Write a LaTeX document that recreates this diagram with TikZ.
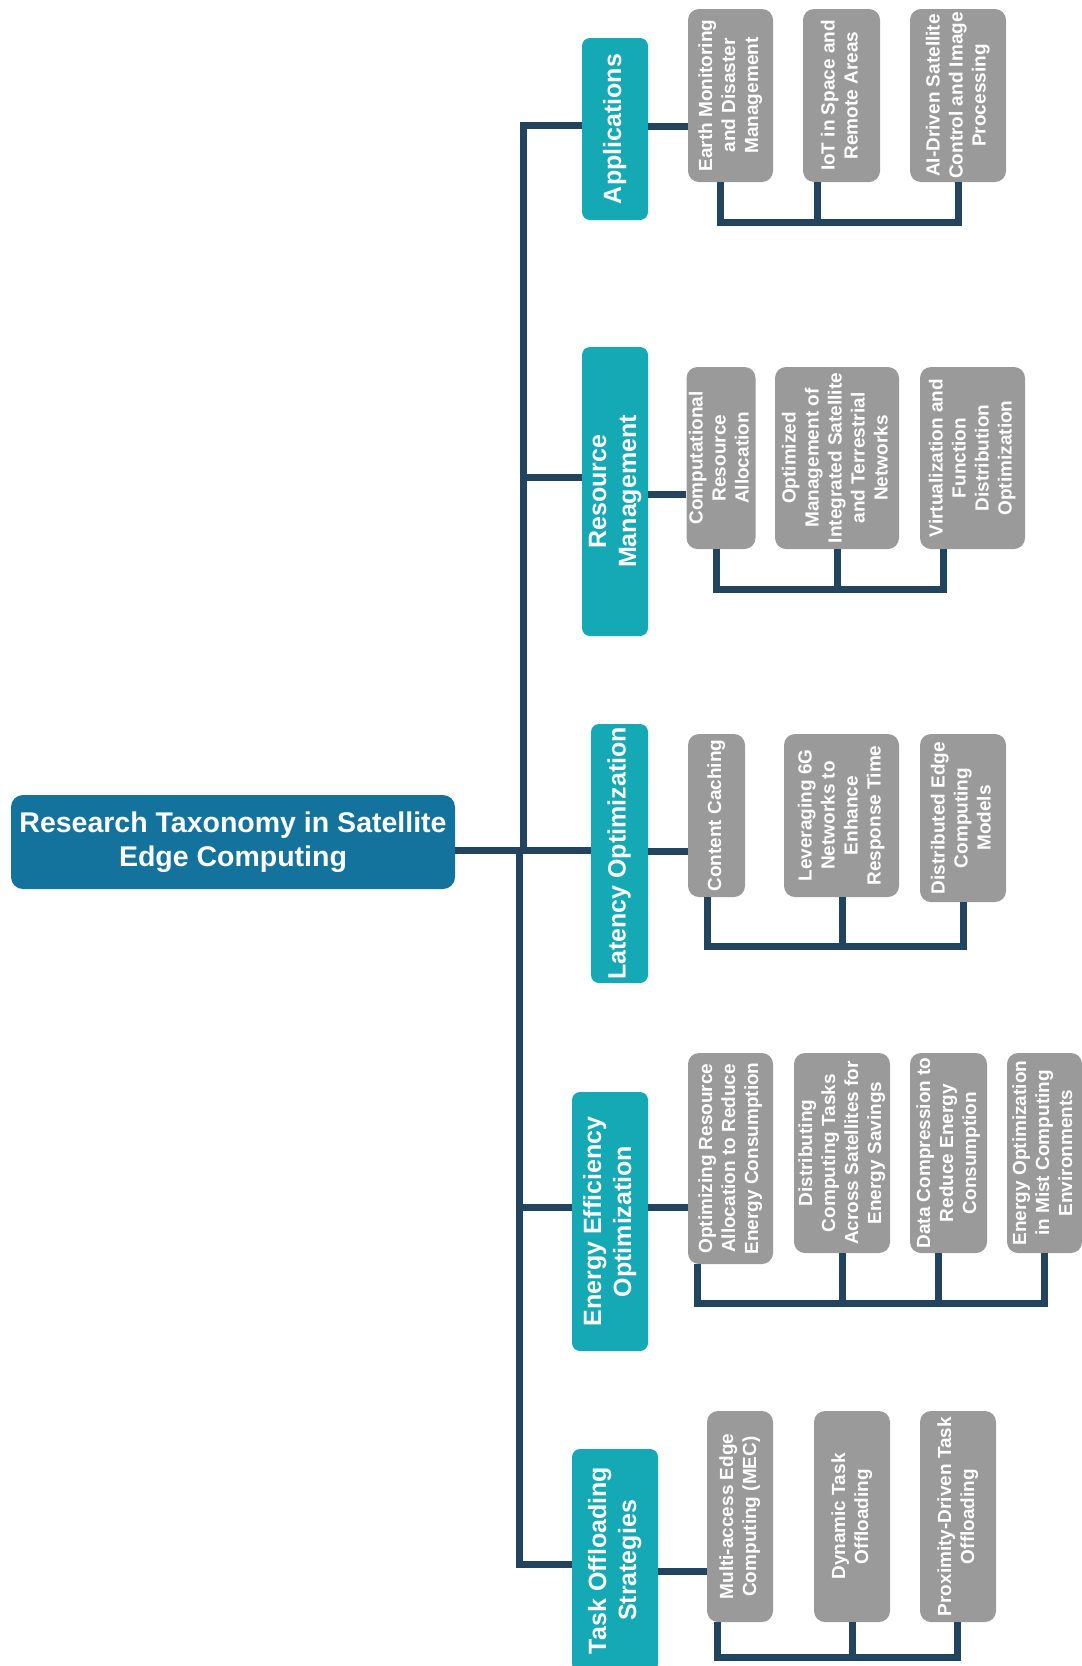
\documentclass[tikz,border=0pt]{standalone}
\usepackage{fontspec}
\setmainfont{Liberation Sans}
\usepackage{graphicx}

\definecolor{rootblue}{RGB}{19,115,156}
\definecolor{catteal}{RGB}{21,168,181}
\definecolor{leafgray}{RGB}{154,154,154}
\definecolor{linknavy}{RGB}{35,68,94}

% text set bottom-to-top, lines centred
\newcommand\vtext[1]{\rotatebox{90}{\begin{tabular}{@{}c@{}}#1\end{tabular}}}

\begin{document}
\begin{tikzpicture}[x=1pt,y=-1pt,
  rootbox/.style={fill=rootblue, text=white, rounded corners=12pt, inner sep=0pt,
    align=center, font=\fontsize{28.5}{34}\selectfont\bfseries},
  catbox/.style={fill=catteal, text=white, rounded corners=8pt, inner sep=0pt,
    font=\fontsize{25}{30}\selectfont\bfseries},
  leafbox/.style={fill=leafgray, text=white, rounded corners=11pt, inner sep=0pt,
    font=\fontsize{19}{23}\selectfont\bfseries},
  link/.style={draw=linknavy, line width=7pt, line join=miter},
]
\useasboundingbox (0,0) rectangle (1082,1666);

% ---------- root ----------
\node[rootbox, minimum width=444pt, minimum height=94pt] (root) at (233,842)
  {Research Taxonomy in Satellite\\Edge Computing};

% ---------- categories ----------
\node[catbox, minimum width=66pt, minimum height=182pt] (app) at (615,129) {\vtext{Applications}};
\node[catbox, minimum width=66pt, minimum height=289pt] (res) at (615,491.5) {\vtext{Resource\\Management}};
\node[catbox, minimum width=57pt, minimum height=259pt] (lat) at (619.5,853.5) {\vtext{Latency Optimization}};
\node[catbox, minimum width=76pt, minimum height=259pt] (ene) at (610,1221.5) {\vtext{Energy Efficiency\\Optimization}};
\node[catbox, minimum width=86pt, minimum height=223pt] (task) at (615,1560.5) {\vtext{Task Offloading\\Strategies}};

% ---------- leaves: applications ----------
\node[leafbox, minimum width=85pt, minimum height=173pt] (a1) at (730.5,95.5) {\vtext{Earth Monitoring\\and Disaster\\Management}};
\node[leafbox, minimum width=77pt, minimum height=173pt] (a2) at (841.5,95.5) {\vtext{IoT in Space and\\Remote Areas}};
\node[leafbox, minimum width=96pt, minimum height=173pt] (a3) at (958,95.5) {\vtext{AI-Driven Satellite\\Control and Image\\Processing}};

% ---------- leaves: resource management ----------
\node[leafbox, minimum width=66pt, minimum height=182pt] (r1) at (721,458) {\vtext{Computational\\Resource\\Allocation}};
\node[leafbox, minimum width=124pt, minimum height=182pt] (r2) at (837,458) {\vtext{Optimized\\Management of\\Integrated Satellite\\and Terrestrial\\Networks}};
\node[leafbox, minimum width=105pt, minimum height=182pt] (r3) at (972.5,458) {\vtext{Virtualization and\\Function\\Distribution\\Optimization}};

% ---------- leaves: latency ----------
\node[leafbox, minimum width=57pt, minimum height=163pt] (l1) at (716.5,815.5) {\vtext{Content Caching}};
\node[leafbox, minimum width=115pt, minimum height=163pt] (l2) at (841.5,815.5) {\vtext{Leveraging 6G\\Networks to\\Enhance\\Response Time}};
\node[leafbox, minimum width=86pt, minimum height=168pt] (l3) at (963,818) {\vtext{Distributed Edge\\Computing\\Models}};

% ---------- leaves: energy ----------
\node[leafbox, minimum width=85pt, minimum height=211pt] (e1) at (730.5,1158.5) {\vtext{Optimizing Resource\\Allocation to Reduce\\Energy Consumption}};
\node[leafbox, minimum width=96pt, minimum height=200pt] (e2) at (842,1153) {\vtext{Distributing\\Computing Tasks\\Across Satellites for\\Energy Savings}};
\node[leafbox, minimum width=77pt, minimum height=200pt] (e3) at (948.5,1153) {\vtext{Data Compression to\\Reduce Energy\\Consumption}};
\node[leafbox, minimum width=75pt, minimum height=200pt] (e4) at (1044.5,1153) {\vtext{Energy Optimization\\in Mist Computing\\Environments}};

% ---------- leaves: task offloading ----------
\node[leafbox, minimum width=66pt, minimum height=211pt] (t1) at (740,1516.5) {\vtext{Multi-access Edge\\Computing (MEC)}};
\node[leafbox, minimum width=76pt, minimum height=211pt] (t2) at (852,1516.5) {\vtext{Dynamic Task\\Offloading}};
\node[leafbox, minimum width=76pt, minimum height=211pt] (t3) at (958,1516.5) {\vtext{Proximity-Driven Task\\Offloading}};

% ---------- trunk ----------
\coordinate (tA) at (523,125);
\coordinate (tR) at (523,477);
\coordinate (jt) at (523,850);
\coordinate (jb) at (519,850);
\coordinate (tE) at (519,1207);
\coordinate (tT) at (519,1564);

\draw[link] (app.west |- tA) -- (tA) -- (jt);
\draw[link] (tR) -- (tR -| res.west);
\draw[link] (root.east |- jt) -- (jt -| lat.west);
\draw[link] (jb) -- (tT) -- (tT -| task.west);
\draw[link] (tE) -- (tE -| ene.west);

% ---------- category to first leaf ----------
\draw[link] (app.east |- 0,126) -- (a1.west |- 0,126);
\draw[link] (res.east |- 0,494) -- (r1.west |- 0,494);
\draw[link] (lat.east |- 0,851) -- (l1.west |- 0,851);
\draw[link] (ene.east |- 0,1207) -- (e1.west |- 0,1207);
\draw[link] (task.east |- 0,1571) -- (t1.west |- 0,1571);

% ---------- leaf brackets ----------
\draw[link] (a1.south -| 720,0) |- (958,222) -- (a3.south -| 958,0);
\draw[link] (a2.south -| 817,0) -- (817,222);

\draw[link] (r1.south -| 716,0) |- (943,589) -- (r3.south -| 943,0);
\draw[link] (r2.south -| 837,0) -- (837,589);

\draw[link] (l1.south -| 707,0) |- (963,946) -- (l3.south -| 963,0);
\draw[link] (l2.south -| 842,0) -- (842,946);

\draw[link] (e1.south -| 697,0) |- (1044,1303) -- (e4.south -| 1044,0);
\draw[link] (e2.south -| 842,0) -- (842,1303);
\draw[link] (e3.south -| 938,0) -- (938,1303);

\draw[link] (t1.south -| 717,0) |- (957,1657) -- (t3.south -| 957,0);
\draw[link] (t2.south -| 852,0) -- (852,1657);

\end{tikzpicture}
\end{document}
